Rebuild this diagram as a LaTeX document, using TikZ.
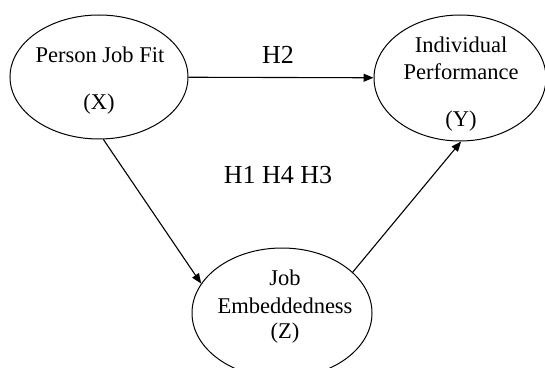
\documentclass[tikz,border=0pt]{standalone}
\usepackage{fontspec}
\setmainfont{Liberation Serif}
\usetikzlibrary{shapes.geometric,arrows.meta}
\begin{document}
\begin{tikzpicture}[x=1pt,y=1pt,
  latent/.style={draw, ellipse, line width=1pt, inner sep=0pt},
  ntext/.style={anchor=base, inner sep=0pt, font=\fontsize{22.5}{27}\selectfont},
  hlabel/.style={anchor=base, inner sep=0pt, font=\fontsize{26}{30}\selectfont},
  path/.style={line width=1.1pt, -{Triangle[length=10pt,width=8pt]}}]
\useasboundingbox (0,0) rectangle (545,367);
\node[latent, minimum width=178pt, minimum height=124pt] (X) at (99,290) {};
\node[latent, minimum width=172pt, minimum height=126pt] (Y) at (460,289) {};
\node[latent, minimum width=180pt, minimum height=130pt] (Z) at (282,54) {};
\node[ntext] (xt1) at (100,304) {Person Job Fit};
\node[ntext] (xt2) at (99,257) {(X)};
\node[ntext] (yt1) at (461,314) {Individual};
\node[ntext] (yt2) at (461,287) {Performance};
\node[ntext] (yt3) at (461,240) {(Y)};
\node[ntext] (zt1) at (285,82) {Job};
\node[ntext] (zt2) at (285,54) {Embeddedness};
\node[ntext] (zt3) at (285,29) {(Z)};
\node[hlabel] (h2) at (278,303) {H2};
\node[hlabel] (h143) at (278,183) {H1 H4 H3};
\draw[path] (X) -- (Y);
\draw[path] (X.-86) -- (Z.160);
\draw[path] (Z.30) -- (Y.-89);
\end{tikzpicture}
\end{document}
